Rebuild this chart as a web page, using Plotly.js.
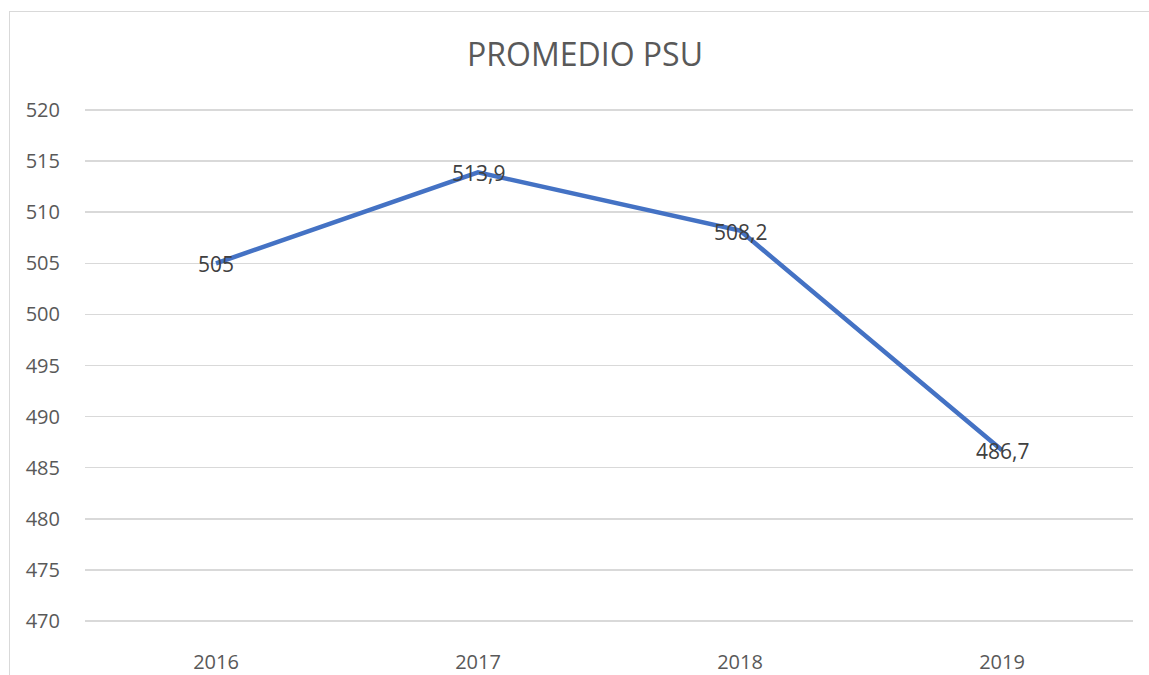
<!DOCTYPE html>
<html>
<head>
<meta charset="utf-8">
<script src="https://cdn.plot.ly/plotly-3.0.1.min.js"></script>
<style>
  html, body { margin: 0; padding: 0; background: #fff; }
  #wrap { position: relative; width: 1149px; height: 675px; overflow: hidden; }
  #chart { position: absolute; left: 0; top: 0; width: 1149px; height: 675px; }
  #frame { position: absolute; left: 9px; top: 11px; width: 1200px; height: 700px;
           border-left: 1.5px solid #d9d9d9; border-top: 1.5px solid #d9d9d9; pointer-events: none; }
</style>
</head>
<body>
<div id="wrap">
  <div id="chart"></div>
  <div id="frame"></div>
</div>
<script>
const years = ['2016', '2017', '2018', '2019'];
const promedio = [505, 513.9, 508.2, 486.7];
const yTicks = [470, 475, 480, 485, 490, 495, 500, 505, 510, 515, 520];
const chartTitle = 'PROMEDIO PSU';

const labels = promedio.map(v => String(v).replace('.', ','));

const trace = {
  x: years,
  y: promedio,
  type: 'scatter',
  mode: 'lines',
  line: { color: '#4472C4', width: 4.5 },
  hoverinfo: 'skip',
  cliponaxis: false
};

// category axis: annotations are placed by category index
const annotations = years.map((yr, i) => ({
  x: i,
  y: promedio[i],
  xref: 'x',
  yref: 'y',
  text: labels[i],
  showarrow: false,
  xanchor: 'center',
  yanchor: 'middle',
  yshift: -1,
  font: { family: 'Open Sans, sans-serif', size: 21, color: '#404040' }
}));

const layout = {
  width: 1149,
  height: 675,
  margin: { l: 85, r: 16, t: 109, b: 53 },
  paper_bgcolor: '#ffffff',
  plot_bgcolor: '#ffffff',
  showlegend: false,
  annotations: annotations,
  title: {
    text: chartTitle,
    font: { family: 'Open Sans, sans-serif', size: 32, color: '#595959' },
    x: 585 / 1149, xanchor: 'center', xref: 'container',
    y: 1 - 55 / 675, yanchor: 'middle', yref: 'container'
  },
  xaxis: {
    type: 'category',
    range: [-0.5, 3.5],
    showgrid: false,
    zeroline: false,
    showline: false,
    ticks: 'outside',
    ticklen: 22,
    tickcolor: 'rgba(0,0,0,0)',
    tickfont: { family: 'Open Sans, sans-serif', size: 20, color: '#595959' }
  },
  yaxis: {
    range: [469.9, 520.1],
    tickvals: yTicks,
    ticktext: yTicks.map(String),
    showgrid: true,
    gridcolor: '#d9d9d9',
    gridwidth: 1.5,
    zeroline: false,
    showline: false,
    ticks: 'outside',
    ticklen: 20,
    tickcolor: 'rgba(0,0,0,0)',
    tickfont: { family: 'Open Sans, sans-serif', size: 20, color: '#595959' }
  }
};

Plotly.newPlot('chart', [trace], layout, { displayModeBar: false, staticPlot: true });
</script>
</body>
</html>
